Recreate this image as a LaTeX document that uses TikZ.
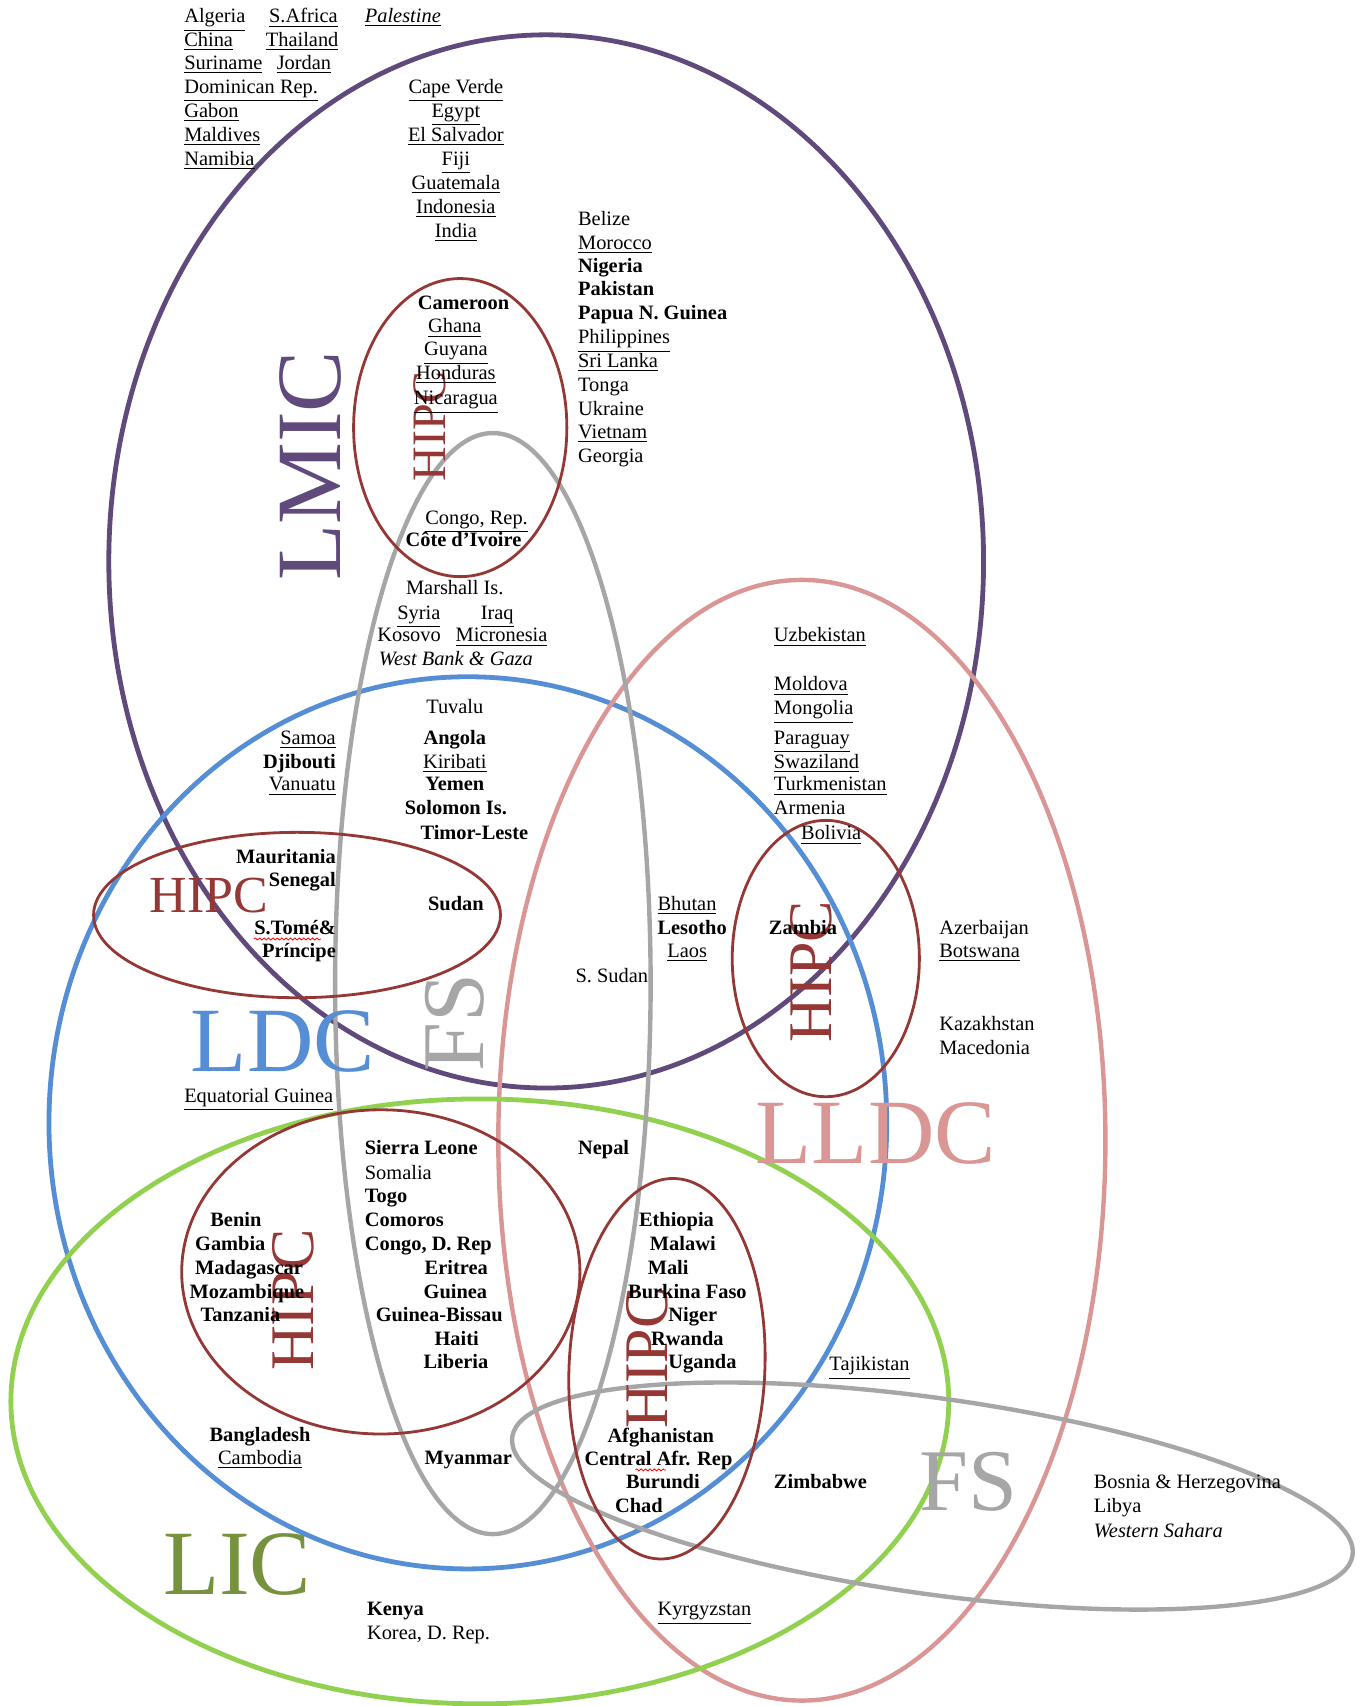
\documentclass[tikz,border=0pt]{standalone}
\usepackage{fontspec}
\setmainfont{Liberation Serif}
\usetikzlibrary{calc,decorations.pathmorphing}
\definecolor{cLMIC}{RGB}{96,74,123}
\definecolor{cLDC}{RGB}{85,142,213}
\definecolor{cLLDC}{RGB}{217,150,148}
\definecolor{cLICline}{RGB}{146,208,80}
\definecolor{cLIC}{RGB}{118,146,60}
\definecolor{cFS}{RGB}{166,166,166}
\definecolor{cHIPC}{RGB}{149,55,53}
\newcommand\ptW[4]{\node[ct,anchor=base west] (#1) at (#2,#3) {#4};}
\newcommand\ptC[4]{\node[ct,anchor=base] (#1) at (#2,#3) {#4};}
\newcommand\ptE[4]{\node[ct,anchor=base east] (#1) at (#2,#3) {#4};}
\tikzset{
  ct/.style={inner sep=0pt, font=\fontsize{10.2}{12}\selectfont},
  ring/.style={line width=2.4pt},
  hipcring/.style={line width=1.4pt, draw=cHIPC},
  biglbl/.style={inner sep=0pt, font=\fontsize{46}{46}\selectfont},
  hipclbl/.style={inner sep=0pt, text=cHIPC},
  spell/.style={draw=red, line width=0.4pt, decorate, decoration={snake, amplitude=0.5pt, segment length=2.2pt}}
}
\begin{document}
\begin{tikzpicture}[x=0.54393pt, y=-0.54393pt]
\useasboundingbox (0,0) rectangle (1252,1568);
% ---- rings ----
\draw[ring, draw=cLMIC] (502,516) ellipse [x radius=402, y radius=484];
\draw[ring, draw=cLDC] (430,1032) ellipse [x radius=385, y radius=410];
\draw[ring, draw=cLLDC, line width=2.2pt] (737,1048) ellipse [x radius=279, y radius=515];
\draw[ring, draw=cLICline] (441,1288) ellipse [x radius=431, y radius=278];
\draw[ring, draw=cFS, line width=2.2pt] (453,904) ellipse [x radius=145, y radius=506];
\draw[ring, draw=cFS, line width=2.2pt, rotate around={-8:(857,1375)}] (857,1375) ellipse [x radius=390, y radius=90];
\draw[hipcring] (423,393) ellipse [x radius=98, y radius=137];
\draw[hipcring] (273,841) ellipse [x radius=187, y radius=76];
\draw[hipcring] (759,881) ellipse [x radius=86, y radius=127];
\draw[hipcring] (350,1169) ellipse [x radius=183, y radius=149];
\draw[hipcring, rotate around={-2.5:(613,1258)}] (613,1258) ellipse [x radius=90, y radius=175];
% ---- big labels ----
\node[biglbl, text=cLMIC, rotate=90] (lLMIC) at (285,428) {LMIC};
\node[biglbl, text=cLDC] (lLDC) at (260,957) {LDC};
\node[biglbl, text=cFS, rotate=90, font=\fontsize{44}{44}\selectfont] (lFSa) at (418,940) {FS};
\node[biglbl, text=cLLDC] (lLLDC) at (805,1042) {LLDC};
\node[biglbl, text=cLIC] (lLIC) at (218,1438) {LIC};
\node[biglbl, text=cFS, font=\fontsize{44}{44}\selectfont] (lFSb) at (890,1362) {FS};
\node[hipclbl, rotate=90, font=\fontsize{24}{24}\selectfont] (hA) at (395,392) {HIPC};
\node[hipclbl, font=\fontsize{26}{26}\selectfont] (hB) at (192,823) {HIPC};
\node[hipclbl, rotate=90, font=\fontsize{31}{31}\selectfont] (hC) at (746,893) {HIPC};
\node[hipclbl, rotate=90, font=\fontsize{31}{31}\selectfont] (hD) at (270,1195) {HIPC};
\node[hipclbl, rotate=90, font=\fontsize{31}{31}\selectfont] (hE) at (595,1248) {HIPC};
% ---- top-left block ----
\ptW{alg}{169}{21}{\underline{Algeria}}
\ptW{saf}{247}{21}{\underline{S.Africa}}
\ptW{pal}{335}{21}{\underline{\textit{Palestine}}}
\ptW{chn}{169}{43}{\underline{China}}
\ptW{tha}{244}{43}{\underline{Thailand}}
\ptW{sur}{169}{64}{\underline{Suriname}}
\ptW{jor}{254}{64}{\underline{Jordan}}
\ptW{dom}{169}{86}{\underline{Dominican Rep.}}
\ptW{gab}{169}{108}{\underline{Gabon}}
\ptW{mdv}{169}{130}{\underline{Maldives}}
\ptW{nam}{169}{152}{\underline{Namibia}}
% ---- LMIC centre column ----
\ptC{cpv}{419}{86}{\underline{Cape Verde}}
\ptC{egy}{419}{108}{\underline{Egypt}}
\ptC{slv}{419}{130}{\underline{El Salvador}}
\ptC{fji}{419}{152}{\underline{Fiji}}
\ptC{gtm}{419}{174}{\underline{Guatemala}}
\ptC{idn}{419}{196}{\underline{Indonesia}}
\ptC{ind}{419}{218}{\underline{India}}
% ---- LMIC right column ----
\ptW{blz}{531}{207}{Belize}
\ptW{mar}{531}{229}{\underline{Morocco}}
\ptW{nga}{531}{250}{\textbf{Nigeria}}
\ptW{pak}{531}{272}{\textbf{Pakistan}}
\ptW{png}{531}{294}{\textbf{Papua N. Guinea}}
\ptW{phl}{531}{316}{\underline{Philippines}}
\ptW{lka}{531}{338}{\underline{Sri Lanka}}
\ptW{ton}{531}{360}{Tonga}
\ptW{ukr}{531}{382}{Ukraine}
\ptW{vnm}{531}{403}{\underline{Vietnam}}
\ptW{geo}{531}{425}{Georgia}
% ---- HIPC (top) ----
\ptC{cmr}{426}{284}{\textbf{Cameroon}}
\ptC{gha}{418}{306}{\underline{Ghana}}
\ptC{guy}{419}{327}{\underline{Guyana}}
\ptC{hnd}{419}{349}{\underline{Honduras}}
\ptC{nic}{419}{372}{\underline{Nicaragua}}
\ptC{cog}{438}{482}{\underline{Congo, Rep.}}
\ptC{civ}{426}{502}{\textbf{Côte d'Ivoire}}
% ---- LMIC & FS ----
\ptC{mhl}{418}{546}{Marshall Is.}
\ptC{syr}{385}{569}{\underline{Syria}}
\ptC{irq}{457}{569}{\underline{Iraq}}
\ptC{ksv}{376}{590}{Kosovo}
\ptC{fsm}{461}{590}{\underline{Micronesia}}
\ptC{wbg}{419}{612}{\textit{West Bank \& Gaza}}
% ---- LDC & LMIC ----
\ptC{tuv}{418}{656}{Tuvalu}
\ptC{ago}{418}{684}{\textbf{Angola}}
\ptC{kir}{418}{706}{\underline{Kiribati}}
\ptC{yem}{418}{727}{\textbf{Yemen}}
\ptC{slb}{419}{749}{\textbf{Solomon Is.}}
\ptC{tls}{436}{772}{\textbf{Timor-Leste}}
\ptE{wsm}{309}{684}{\underline{Samoa}}
\ptE{dji}{309}{706}{\textbf{Djibouti}}
\ptE{vut}{309}{727}{\underline{Vanuatu}}
% ---- HIPC (middle left) ----
\ptE{mrt}{309}{794}{\textbf{Mauritania}}
\ptE{sen}{309}{815}{\textbf{Senegal}}
\ptE{stp}{309}{859}{\textbf{S.Tomé\&}}
\ptE{stpb}{309}{880}{\textbf{Príncipe}}
\ptC{sdn}{419}{837}{\textbf{Sudan}}
\draw[spell] ($(stp.base west)+(0,4)$) -- ($(stp.base east)+(-14,4)$);
% ---- LLDC ----
\ptW{btn}{604}{837}{\underline{Bhutan}}
\ptW{lso}{604}{859}{\textbf{Lesotho}}
\ptW{lao}{613}{880}{\underline{Laos}}
\ptE{ssd}{596}{903}{S. Sudan}
\ptC{zmb}{738}{859}{\textbf{Zambia}}
\ptW{uzb}{711}{590}{\underline{Uzbekistan}}
\ptW{mda}{711}{635}{\underline{Moldova}}
\ptW{mng}{711}{657}{\underline{Mongolia}}
\ptW{pry}{711}{684}{\underline{Paraguay}}
\ptW{swz}{711}{706}{\underline{Swaziland}}
\ptW{tkm}{711}{727}{\underline{Turkmenistan}}
\ptW{arm}{711}{749}{Armenia}
\ptW{bol}{736}{772}{\underline{Bolivia}}
\ptW{aze}{863}{859}{Azerbaijan}
\ptW{bwa}{863}{880}{\underline{Botswana}}
\ptW{kaz}{863}{947}{Kazakhstan}
\ptW{mkd}{863}{969}{Macedonia}
% ---- LDC lower ----
\ptW{gnq}{169}{1013}{\underline{Equatorial Guinea}}
\ptW{sle}{335}{1061}{\textbf{Sierra Leone}}
\ptW{som}{335}{1084}{Somalia}
\ptW{tgo}{335}{1105}{\textbf{Togo}}
\ptW{com}{335}{1127}{\textbf{Comoros}}
\ptW{cod}{335}{1149}{\textbf{Congo, D. Rep}}
\ptW{eri}{390}{1171}{\textbf{Eritrea}}
\ptW{gin}{389}{1193}{\textbf{Guinea}}
\ptW{gnb}{345}{1215}{\textbf{Guinea-Bissau}}
\ptW{hti}{399}{1237}{\textbf{Haiti}}
\ptW{lbr}{389}{1258}{\textbf{Liberia}}
\ptW{ben}{193}{1127}{\textbf{Benin}}
\ptW{gmb}{179}{1149}{\textbf{Gambia}}
\ptW{mdg}{179}{1171}{\textbf{Madagascar}}
\ptW{moz}{174}{1193}{\textbf{Mozambique}}
\ptW{tza}{184}{1215}{\textbf{Tanzania}}
\ptC{bgd}{239}{1325}{\textbf{Bangladesh}}
\ptC{khm}{239}{1346}{\underline{Cambodia}}
\ptW{mmr}{390}{1346}{\textbf{Myanmar}}
\ptW{npl}{531}{1061}{\textbf{Nepal}}
\ptW{eth}{587}{1127}{\textbf{Ethiopia}}
\ptW{mwi}{597}{1149}{\textbf{Malawi}}
\ptW{mli}{595}{1171}{\textbf{Mali}}
\ptW{bfa}{577}{1193}{\textbf{Burkina Faso}}
\ptW{ner}{614}{1215}{\textbf{Niger}}
\ptW{rwa}{598}{1237}{\textbf{Rwanda}}
\ptW{uga}{614}{1258}{\textbf{Uganda}}
\ptW{afg}{558}{1326}{\textbf{Afghanistan}}
\ptW{caf}{537}{1347}{\textbf{Central Afr. Rep}}
\ptW{bdi}{575}{1368}{\textbf{Burundi}}
\ptW{tcd}{565}{1390}{\textbf{Chad}}
\draw[spell] ($(caf.base west)+(47,4)$) -- ++(28,0);
\ptW{zwe}{711}{1368}{\textbf{Zimbabwe}}
\ptW{tjk}{762}{1260}{\underline{Tajikistan}}
\ptW{kgz}{604}{1485}{\underline{Kyrgyzstan}}
\ptW{ken}{337}{1485}{\textbf{Kenya}}
\ptW{prk}{337}{1507}{Korea, D. Rep.}
% ---- FS outside ----
\ptW{bih}{1005}{1368}{Bosnia \& Herzegovina}
\ptW{lby}{1005}{1390}{Libya}
\ptW{esh}{1005}{1413}{\textit{Western Sahara}}
\end{tikzpicture}
\end{document}
